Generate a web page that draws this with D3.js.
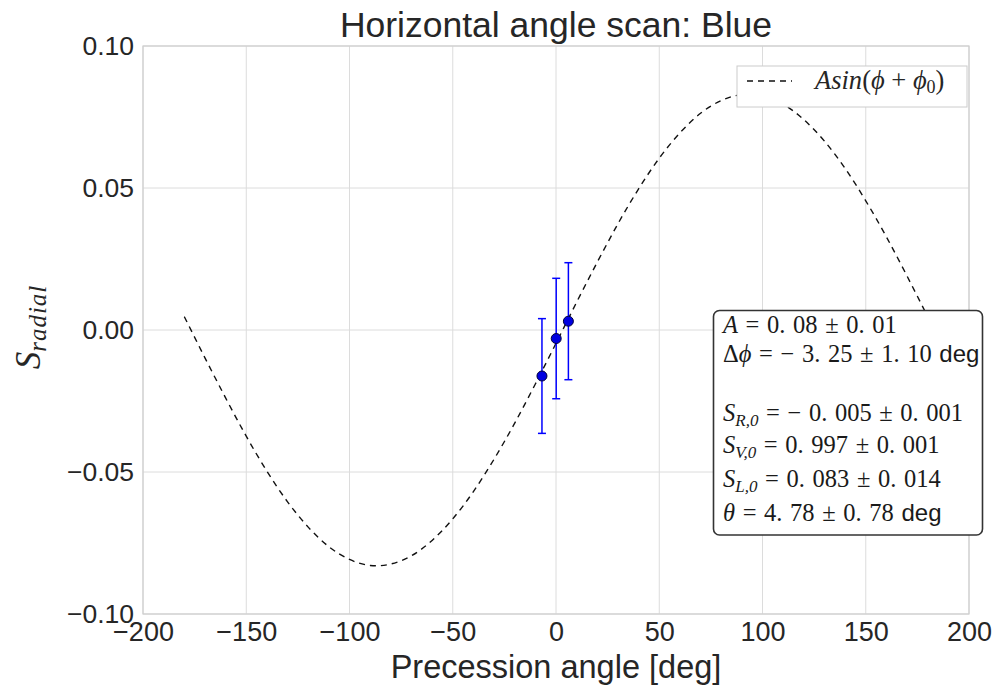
<!DOCTYPE html>
<html><head><meta charset="utf-8">
<script src="https://cdn.jsdelivr.net/npm/d3@7"></script>
<style>body{margin:0;background:#fff}svg{display:block}</style>
</head><body>
<script>
// ---- data ----
const xTicks = [-200,-150,-100,-50,0,50,100,150,200];
const yTicks = [-0.10,-0.05,0.00,0.05,0.10];
const pointX = [-6.8, 0.1, 6.0];
const pointY = [-0.0162, -0.0030, 0.0031];
const pointErr = [0.0202, 0.0212, 0.0206];
// fitted curve (every 10 deg)
const curveX = [-180,-170,-160,-150,-140,-130,-120,-110,-100,-90,-80,-70,-60,-50,-40,-30,-20,-10,0,10,20,30,40,50,60,70,80,90,100,110,120,130,140,150,160,170,180];
const curveY = [0.0047,-0.0098,-0.0239,-0.0374,-0.0497,-0.0605,-0.0694,-0.0763,-0.0808,-0.0829,-0.0824,-0.0795,-0.0741,-0.0665,-0.0569,-0.0455,-0.0328,-0.0190,-0.0047,0.0098,0.0239,0.0374,0.0497,0.0605,0.0694,0.0763,0.0808,0.0829,0.0824,0.0795,0.0741,0.0665,0.0569,0.0455,0.0328,0.0190,0.0047];

const W = 995, H = 687;
const L = 143, R = 969, T = 46, B = 614;
const svg = d3.select("body").append("svg").attr("width", W).attr("height", H);
const x = d3.scaleLinear().domain([-200,200]).range([L,R]);
const y = d3.scaleLinear().domain([-0.10,0.10]).range([B,T]);
const txt = "#262626";
const sans = "'Liberation Sans', Arial, sans-serif";
const serif = "'Liberation Serif', 'Times New Roman', serif";

// grid
const g = svg.append("g");
g.selectAll(".vx").data(xTicks).join("line")
  .attr("x1", d=>x(d)).attr("x2", d=>x(d)).attr("y1", T).attr("y2", B)
  .attr("stroke", "#dcdcdc").attr("stroke-width", 1);
g.selectAll(".hy").data(yTicks).join("line")
  .attr("y1", d=>y(d)).attr("y2", d=>y(d)).attr("x1", L).attr("x2", R)
  .attr("stroke", "#dcdcdc").attr("stroke-width", 1);
svg.append("rect").attr("x", L).attr("y", T).attr("width", R-L).attr("height", B-T)
  .attr("fill", "none").attr("stroke", "#cfcfcf").attr("stroke-width", 1.2);

// axes labels via d3 axes (no tick lines)
const fmtY = d => d3.format(".2f")(d).replace("-", "\u2212");
const fmtX = d => String(d).replace("-", "\u2212");
const xa = svg.append("g").attr("transform", `translate(0,${B})`)
  .call(d3.axisBottom(x).tickValues(xTicks).tickFormat(fmtX).tickSize(0).tickPadding(0));
xa.select(".domain").remove();
xa.selectAll("text").attr("font-family", sans).attr("font-size", 27).attr("fill", txt)
  .attr("dy", null).attr("y", 27);
const ya = svg.append("g").attr("transform", `translate(${L},0)`)
  .call(d3.axisLeft(y).tickValues(yTicks).tickFormat(fmtY).tickSize(0).tickPadding(0));
ya.select(".domain").remove();
ya.selectAll("text").attr("font-family", sans).attr("font-size", 26.5).attr("fill", txt)
  .attr("dy", null).attr("x", -9).attr("y", 8.5);

// title and labels
svg.append("text").attr("x", (L+R)/2).attr("y", 37).attr("text-anchor", "middle")
  .attr("font-family", sans).attr("font-size", 35.5).attr("fill", txt)
  .text("Horizontal angle scan: Blue");
svg.append("text").attr("x", (L+R)/2).attr("y", 678).attr("text-anchor", "middle")
  .attr("font-family", sans).attr("font-size", 32.5).attr("fill", txt)
  .text("Precession angle [deg]");
const yl = svg.append("text").attr("transform", "translate(40,327) rotate(-90)")
  .attr("text-anchor", "middle").attr("font-family", serif).attr("font-style", "italic").attr("fill", txt);
yl.append("tspan").attr("font-size", 35).text("S");
yl.append("tspan").attr("font-size", 25).attr("dy", 6).attr("letter-spacing", 1).text("radial");

// curve
const line = d3.line().x(d=>x(d[0])).y(d=>y(d[1])).curve(d3.curveNatural);
svg.append("path").datum(curveX.map((v,i)=>[v, curveY[i]]))
  .attr("d", line).attr("fill", "none").attr("stroke", "#111")
  .attr("stroke-width", 1.4).attr("stroke-dasharray", "6,5");

// error bars
const pts = pointX.map((v,i)=>({x:v, y:pointY[i], e:pointErr[i]}));
const eb = svg.append("g").attr("stroke", "#0000ff").attr("stroke-width", 1.5);
eb.selectAll(".v").data(pts).join("line")
  .attr("x1", d=>x(d.x)).attr("x2", d=>x(d.x)).attr("y1", d=>y(d.y-d.e)).attr("y2", d=>y(d.y+d.e));
eb.selectAll(".t").data(pts).join("line")
  .attr("x1", d=>x(d.x)-4).attr("x2", d=>x(d.x)+4).attr("y1", d=>y(d.y+d.e)).attr("y2", d=>y(d.y+d.e));
eb.selectAll(".b").data(pts).join("line")
  .attr("x1", d=>x(d.x)-4).attr("x2", d=>x(d.x)+4).attr("y1", d=>y(d.y-d.e)).attr("y2", d=>y(d.y-d.e));
svg.selectAll(".pt").data(pts).join("circle")
  .attr("cx", d=>x(d.x)).attr("cy", d=>y(d.y)).attr("r", 5)
  .attr("fill", "#0000e0").attr("stroke", "#00003a").attr("stroke-width", 1);

// legend
svg.append("rect").attr("x", 737).attr("y", 66).attr("width", 230).attr("height", 41)
  .attr("fill", "#fff").attr("stroke", "#cccccc").attr("stroke-width", 1);
svg.append("line").attr("x1", 747).attr("x2", 792).attr("y1", 81).attr("y2", 81)
  .attr("stroke", "#111").attr("stroke-width", 1.4).attr("stroke-dasharray", "6,5");
const lt = svg.append("text").attr("x", 815).attr("y", 89).attr("font-family", serif)
  .attr("font-size", 26.5).attr("fill", txt).attr("xml:space","preserve").style("white-space","pre");
lt.append("tspan").attr("font-style", "italic").text("Asin");
lt.append("tspan").text("(");
lt.append("tspan").attr("font-style", "italic").text("\u03d5");
lt.append("tspan").text(" + ");
lt.append("tspan").attr("font-style", "italic").text("\u03d5");
lt.append("tspan").attr("font-size", 18).attr("dy", 4).text("0");
lt.append("tspan").attr("dy", -4).text(")");

// stats box
svg.append("rect").attr("x", 713.5).attr("y", 310.5).attr("width", 269).attr("height", 224.5)
  .attr("rx", 6).attr("fill", "#fff").attr("stroke", "#333").attr("stroke-width", 1.6);
const lines = [
  {yb:333, parts:[["i","A"],["r"," = 0. 08 \u00b1 0. 01"]]},
  {yb:362, parts:[["r","\u0394"],["i","\u03d5"],["r"," = \u2212 3. 25 \u00b1 1. 10 "],["s","deg"]]},
  {yb:421, parts:[["i","S"],["sub","R,0"],["r"," = \u2212 0. 005 \u00b1 0. 001"]]},
  {yb:453, parts:[["i","S"],["sub","V,0"],["r"," = 0. 997 \u00b1 0. 001"]]},
  {yb:487, parts:[["i","S"],["sub","L,0"],["r"," = 0. 083 \u00b1 0. 014"]]},
  {yb:521, parts:[["i","\u03b8"],["r"," = 4. 78 \u00b1 0. 78 "],["s","deg"]]}
];
lines.forEach(l=>{
  const t = svg.append("text").attr("x", 723).attr("y", l.yb).attr("font-family", serif)
    .attr("font-size", 24.5).attr("fill", "#1a1a1a").attr("word-spacing", 1.5)
    .attr("xml:space","preserve").style("white-space","pre");
  let sub = false;
  l.parts.forEach(p=>{
    const s = t.append("tspan");
    if (p[0]==="i") s.attr("font-style","italic");
    if (p[0]==="s") s.attr("font-family", sans).attr("font-size", 24);
    if (p[0]==="sub") { s.attr("font-style","italic").attr("font-size",17).attr("dy",5); sub = true; }
    else if (sub) { s.attr("dy",-5); sub = false; }
    s.text(p[1]);
  });
});
</script>
</body></html>
